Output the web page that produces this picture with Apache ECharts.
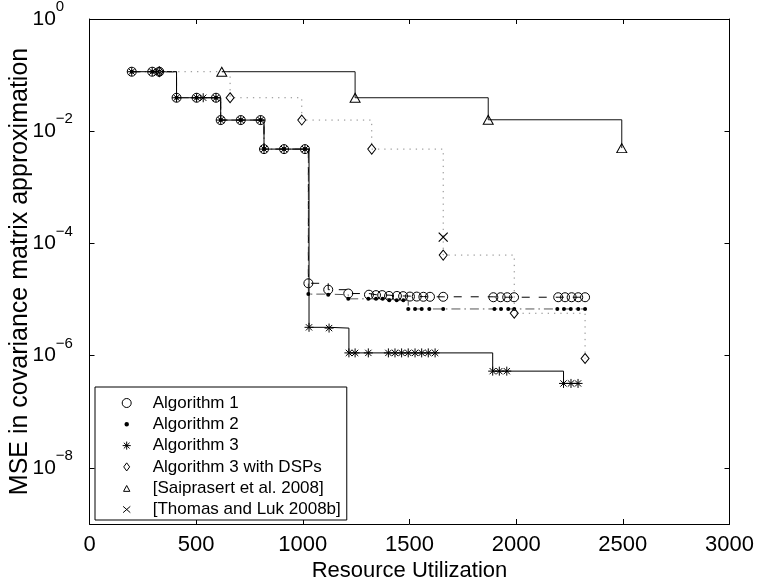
<!DOCTYPE html>
<html><head><meta charset="utf-8">
<script src="https://cdn.jsdelivr.net/npm/echarts@6/dist/echarts.min.js"></script>
<style>html,body{margin:0;padding:0;background:#fff}#c{width:757px;height:581px}</style>
</head><body><div id="c"></div>
<script>
// ---- data ----
const xTicks = [0, 500, 1000, 1500, 2000, 2500, 3000];
const yTicks = [1, 1e-2, 1e-4, 1e-6, 1e-8];

const alg1X = [198, 294, 327, 408, 502, 593, 615, 709, 802, 818, 912, 1010, 1026, 1119, 1213,
  1310, 1343, 1372, 1404, 1441, 1470, 1502, 1534, 1565, 1596, 1658,
  1893, 1927, 1958, 1990, 2197, 2229, 2260, 2291, 2323];
const alg1Y = [0.115, 0.115, 0.115, 0.0395, 0.0395, 0.0395, 0.0158, 0.0158, 0.0158, 0.0048, 0.0048, 0.0048,
  1.95e-5, 1.5e-5, 1.28e-5,
  1.22e-5, 1.2e-5, 1.2e-5, 1.16e-5, 1.16e-5, 1.15e-5, 1.13e-5, 1.13e-5, 1.12e-5, 1.12e-5, 1.12e-5,
  1.1e-5, 1.1e-5, 1.1e-5, 1.1e-5, 1.1e-5, 1.1e-5, 1.1e-5, 1.1e-5, 1.1e-5];

const alg2X = [198, 294, 327, 408, 502, 593, 615, 709, 802, 818, 912, 1010, 1026, 1119, 1213,
  1307, 1343, 1374, 1405, 1440, 1471, 1494, 1526, 1557, 1593, 1658,
  1898, 1929, 1963, 1991, 2193, 2224, 2256, 2291, 2323];
const alg2Y = [0.115, 0.115, 0.115, 0.0395, 0.0395, 0.0395, 0.0158, 0.0158, 0.0158, 0.0048, 0.0048, 0.0048,
  1.25e-5, 1.22e-5, 1.03e-5,
  1.03e-5, 1.03e-5, 1.03e-5, 9.7e-6, 9.7e-6, 9.7e-6, 6.8e-6, 6.8e-6, 6.8e-6, 6.8e-6, 6.8e-6,
  6.8e-6, 6.8e-6, 6.8e-6, 6.8e-6, 6.8e-6, 6.8e-6, 6.8e-6, 6.8e-6, 6.8e-6];

const alg3X = [198, 294, 327, 408, 502, 533, 593, 615, 709, 802, 818, 912, 1010, 1029, 1123,
  1216, 1245, 1307, 1401, 1432, 1463, 1494, 1526, 1557, 1588, 1620,
  1890, 1921, 1956, 2222, 2257, 2290];
const alg3Y = [0.115, 0.115, 0.115, 0.0395, 0.0395, 0.0395, 0.0395, 0.0158, 0.0158, 0.0158, 0.0048, 0.0048, 0.0048,
  3.2e-6, 3.1e-6,
  1.12e-6, 1.12e-6, 1.12e-6, 1.12e-6, 1.12e-6, 1.12e-6, 1.12e-6, 1.12e-6, 1.12e-6, 1.12e-6, 1.12e-6,
  5.3e-7, 5.3e-7, 5.3e-7, 3.2e-7, 3.2e-7, 3.2e-7];

const dspX = [327, 659, 995, 1323, 1658, 1991, 2323];
const dspY = [0.115, 0.0395, 0.0158, 0.0048, 6.2e-5, 5.7e-6, 8.9e-7];

const saiX = [620, 1245, 1869, 2495];
const saiY = [0.115, 0.0395, 0.016, 0.005];

const thomasX = [1658];
const thomasY = [1.3e-4];

const names = ['Algorithm 1', 'Algorithm 2', 'Algorithm 3', 'Algorithm 3 with DSPs',
  '[Saiprasert et al. 2008]', '[Thomas and Luk 2008b]'];

// ---- chart ----
const FONT = '"Liberation Sans", Arial, Helvetica, sans-serif';
const zip = (xs, ys) => xs.map((x, i) => [x, ys[i]]);
const STAR = 'path://M5 0L5 10M0 5L10 5M1.5 1.5L8.5 8.5M8.5 1.5L1.5 8.5';
const CROSS = 'path://M0 0L10 10M10 0L0 10';
const LEG_DIAMOND = 'path://M0 0M10 10M5 0.5L8.3 5L5 9.5L1.7 5Z';
const LEG_TRI = 'path://M0 0M10 10M1.5 8.5L5 2L8.5 8.5Z';
const LEG_CROSS = 'path://M0 0M10 10M1 1.5L9 8.5M9 1.5L1 8.5';
const LEG_STAR = 'path://M0 0M10 10M5 0.5L5 9.5M0.5 5L9.5 5M1.8 1.8L8.2 8.2M8.2 1.8L1.8 8.2';

const openStyle = {color: 'none', borderColor: '#000', borderWidth: 1};

function lineSeries(name, xs, ys, symbol, size, itemStyle, lineStyle, z) {
  return {
    name, type: 'line', data: zip(xs, ys), step: 'end', symbol, symbolSize: size,
    showSymbol: true, showAllSymbol: true, itemStyle, lineStyle, z,
    emphasis: {disabled: true}, silent: true, animation: false
  };
}

const supMinus = '\u2212';
const chart = echarts.init(document.getElementById('c'), null, {renderer: 'canvas'});
chart.setOption({
  backgroundColor: '#fff',
  animation: false,
  textStyle: {fontFamily: FONT},
  grid: {left: 89.5, right: 27.5, top: 19, bottom: 57, containLabel: false, outerBoundsMode: 'none'},
  xAxis: [{
    type: 'value', min: 0, max: 3000, interval: 500, position: 'bottom',
    axisLine: {show: true, onZero: false, lineStyle: {color: '#000', width: 1}},
    axisTick: {show: true, inside: true, length: 5, lineStyle: {color: '#000'}},
    axisLabel: {show: true, margin: 10, fontSize: 22, color: '#000', fontFamily: FONT,
      formatter: function (v) { return String(v); }},
    splitLine: {show: false},
    name: 'Resource Utilization', nameLocation: 'middle', nameGap: 36, nameMoveOverlap: false,
    nameTextStyle: {fontSize: 22, color: '#000', fontFamily: FONT}
  }, {
    type: 'value', min: 0, max: 3000, interval: 500, position: 'top',
    axisLine: {show: true, onZero: false, lineStyle: {color: '#000', width: 1}},
    axisTick: {show: true, inside: true, length: 5, lineStyle: {color: '#000'}},
    axisLabel: {show: false}, splitLine: {show: false}
  }],
  yAxis: [{
    type: 'log', logBase: 10, min: 1e-9, max: 1, position: 'left',
    axisLine: {show: true, onZero: false, lineStyle: {color: '#000', width: 1}},
    axisTick: {show: true, inside: true, length: 5, lineStyle: {color: '#000'}, customValues: yTicks},
    minorTick: {show: false},
    axisLabel: {
      show: true, customValues: yTicks, align: 'left', margin: 57,
      formatter: function (v) {
        const e = Math.round(Math.log10(v));
        return '{b|10}{s|' + (e < 0 ? supMinus + (-e) : String(e)) + '}';
      },
      rich: {
        b: {fontSize: 21, lineHeight: 21, color: '#000', fontFamily: FONT},
        s: {fontSize: 15, lineHeight: 15, color: '#000', fontFamily: FONT, padding: [0, 0, 24, 0]}
      }
    },
    splitLine: {show: false},
    name: 'MSE in covariance matrix approximation', nameLocation: 'middle', nameGap: 57,
    nameMoveOverlap: false,
    nameTextStyle: {fontSize: 25, color: '#000', fontFamily: FONT}
  }, {
    type: 'log', logBase: 10, min: 1e-9, max: 1, position: 'right',
    axisLine: {show: true, onZero: false, lineStyle: {color: '#000', width: 1}},
    axisTick: {show: true, inside: true, length: 5, lineStyle: {color: '#000'}, customValues: yTicks},
    minorTick: {show: false},
    axisLabel: {show: false}, splitLine: {show: false}
  }],
  legend: {
    orient: 'vertical', left: 95, top: 387,
    itemWidth: 42, itemHeight: 9, itemGap: 4.3,
    padding: [7.5, 6, 2, 24.7],
    borderColor: '#000', borderWidth: 1, borderRadius: 0, backgroundColor: '#fff',
    selectedMode: false, symbolKeepAspect: true,
    textStyle: {fontSize: 17, lineHeight: 17, color: '#000', fontFamily: FONT},
    data: [
      {name: names[0], icon: 'circle', itemStyle: {color: 'none', borderColor: '#000', borderWidth: 1}},
      {name: names[1], icon: 'circle', itemStyle: {color: '#000', borderColor: '#fff', borderWidth: 4.5}},
      {name: names[2], icon: LEG_STAR, itemStyle: {color: 'none', borderColor: '#000', borderWidth: 1}},
      {name: names[3], icon: LEG_DIAMOND, itemStyle: {color: 'none', borderColor: '#000', borderWidth: 1}},
      {name: names[4], icon: LEG_TRI, itemStyle: {color: 'none', borderColor: '#000', borderWidth: 1}},
      {name: names[5], icon: LEG_CROSS, itemStyle: {color: 'none', borderColor: '#000', borderWidth: 1}}
    ]
  },
  series: [
    lineSeries(names[0], alg1X, alg1Y, 'circle', 9, openStyle,
      {color: '#000', width: 1, type: [8, 9]}, 2),
    lineSeries(names[1], alg2X, alg2Y, 'circle', 4, {color: '#000', borderWidth: 0},
      {color: '#555', width: 1, type: [9, 4, 1.5, 4]}, 3),
    lineSeries(names[2], alg3X, alg3Y, STAR, 9, {color: 'none', borderColor: '#000', borderWidth: 1},
      {color: '#000', width: 1, type: 'solid'}, 4),
    lineSeries(names[3], dspX, dspY, 'diamond', [8, 10], openStyle,
      {color: '#888', width: 1, type: [1.3, 5]}, 5),
    lineSeries(names[4], saiX, saiY, 'triangle', [10, 9], openStyle,
      {color: '#111', width: 1, type: 'solid'}, 6),
    {
      name: names[5], type: 'line', data: zip(thomasX, thomasY), symbol: CROSS, symbolSize: 9,
      itemStyle: {color: 'none', borderColor: '#000', borderWidth: 1.2},
      lineStyle: {width: 0}, z: 7, emphasis: {disabled: true}, silent: true, animation: false
    }
  ]
});
</script></body></html>
